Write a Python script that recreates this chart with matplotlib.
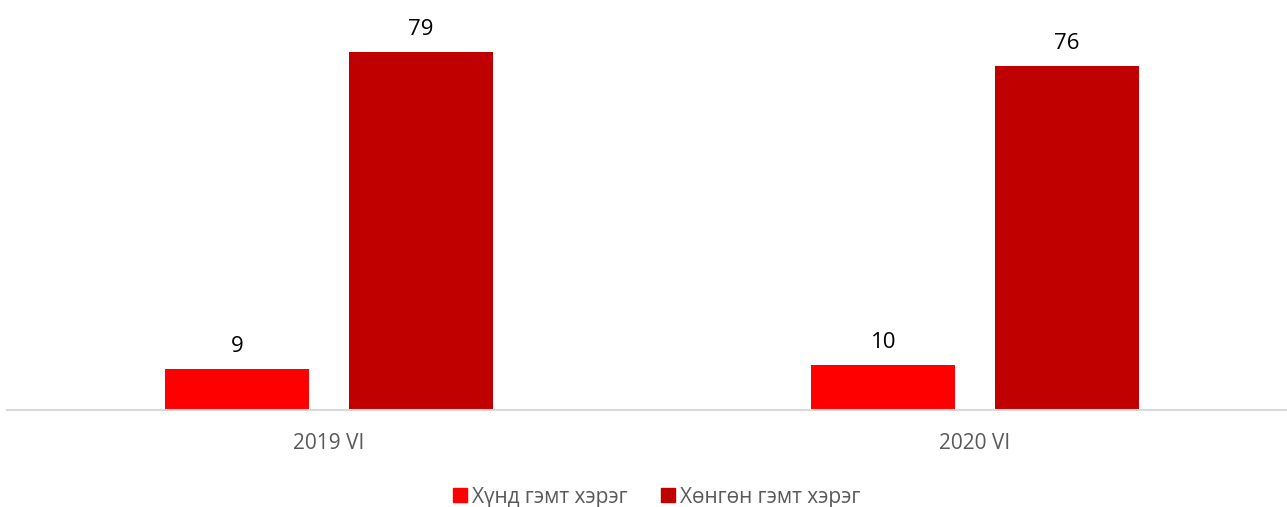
import numpy as np
import matplotlib.pyplot as plt
from matplotlib.patches import Patch

plt.rcParams['font.family'] = ['Open Sans', 'DejaVu Sans']

categories = ["2019 VI", "2020 VI"]
series_names = ["Хүнд гэмт хэрэг", "Хөнгөн гэмт хэрэг"]
heavy = [9, 10]
light = [79, 76]
colors = ["#FF0000", "#C00000"]

fig = plt.figure(figsize=(12.87, 5.07), dpi=100)
ax = fig.add_axes([7/1287, 97/507, 1279/1287, 410/507])

x = np.arange(len(categories))
w = 0.223
off = 0.142
for vals, dx, col in [(heavy, -off, colors[0]), (light, off, colors[1])]:
    bars = ax.bar(x + dx, vals, w, color=col)
    for b, v in zip(bars, vals):
        ax.annotate(str(v), (b.get_x() + b.get_width()/2, v), xytext=(0, 12.2),
                    textcoords="offset points", ha="center", va="baseline",
                    fontsize=16, color="black")

ax.set_xlim(-0.4985, 1.4814)
ax.set_ylim(0, 90.5)
ax.set_yticks([])
ax.set_xticks(x)
ax.set_xticklabels(categories, fontsize=15, color="#595959")
ax.tick_params(axis="x", length=0, pad=16.5)
for s in ["top", "left", "right"]:
    ax.spines[s].set_visible(False)
ax.spines["bottom"].set_color("#D9D9D9")
ax.spines["bottom"].set_linewidth(1.5)

handles = [Patch(color=c, label=n) for c, n in zip(colors, series_names)]
fig.legend(handles=handles, loc="center", bbox_to_anchor=(657/1287, 1 - 497/507),
           ncol=2, frameon=False, fontsize=15, handlelength=0.67, handleheight=0.67,
           handletextpad=0.24, columnspacing=1.6, labelcolor="#595959",
           borderpad=0)

fig.savefig("out.png", dpi=100)
